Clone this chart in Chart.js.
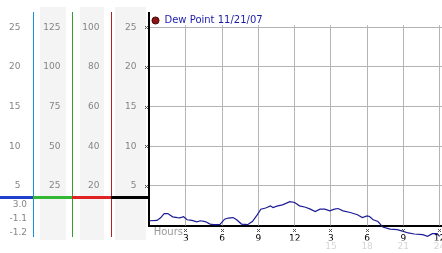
<!DOCTYPE html>
<html>
<head>
<meta charset="utf-8">
<script src="https://cdn.jsdelivr.net/npm/chart.js"></script>
<style>
  html, body { margin: 0; padding: 0; background: #fff; }
  #wrap { width: 442px; height: 253px; }
</style>
</head>
<body>
<div id="wrap"><canvas class="grafico"></canvas></div>
<script>
// dew point readings, hours since midnight
const hours = [0.0, 0.6, 0.9, 1.2, 1.5, 1.9, 2.3, 2.5, 2.8, 3.1, 3.5, 3.9, 4.2, 4.6, 5.0, 5.3, 5.8, 6.2, 6.5, 6.9,
  7.2, 7.6, 8.1, 8.5, 8.9, 9.2, 9.6, 10.0, 10.2, 10.6, 11.0, 11.6, 12.0, 12.4, 12.9, 13.3, 13.7, 14.1, 14.5, 14.9,
  15.3, 15.6, 16.0, 16.6, 17.2, 17.6, 18.0, 18.2, 18.5, 18.9, 19.3, 19.9, 20.5, 21.0, 21.4, 21.9, 22.6, 23.0, 23.4, 23.8, 24.0];
const dewPoint = [0.6, 0.64, 0.97, 1.5, 1.5, 1.09, 1.0, 0.97, 1.1, 0.72, 0.64, 0.47, 0.6, 0.5, 0.18, 0.1, 0.1, 0.8, 0.94, 1.0,
  0.72, 0.18, 0.1, 0.5, 1.35, 2.06, 2.2, 2.48, 2.27, 2.48, 2.6, 3.0, 2.9, 2.48, 2.3, 2.06, 1.76, 2.06, 2.06, 1.85,
  2.06, 2.14, 1.85, 1.64, 1.35, 1.0, 1.22, 1.13, 0.72, 0.5, -0.2, -0.45, -0.53, -0.74, -0.94, -1.07, -1.16, -1.37, -1.03, -1.03, -1.37];

const seriesName = 'Dew Point 11/21/07';
const hourTicks = [3, 6, 9, 12, 15, 18, 21, 24];
const hourLabels = ['3', '6', '9', '12', '3', '6', '9', '12'];
const clockTicks = [15, 18, 21, 24];
const clockLabels = ['15', '18', '21', '24'];
const dewTicks = [5, 10, 15, 20, 25];
const redTicks = [20, 40, 60, 80, 100];
const greenTicks = [25, 50, 75, 100, 125];
const blueTicks = [5, 10, 15, 20, 25];
const readouts = ['3.0', '-1.1', '-1.2'];
const markLevel = 3.65;
const yTop = 26.86;

const canvas = document.querySelector('.grafico');
const tickFont = { family: 'DejaVu Sans', size: 9 };
const gray = '#858585';

function sideAxis(ticks, factor, width, weight, pad) {
    return {
        position: 'left',
        weight: weight,
        min: 0,
        max: yTop * factor,
        grid: { display: false, drawTicks: false },
        border: { display: false },
        ticks: { color: gray, font: tickFont, padding: pad },
        afterBuildTicks: (s) => { s.ticks = ticks.map(v => ({ value: v })); },
        afterFit: (s) => { s.width = width; s.paddingTop = 0; s.paddingBottom = 0; }
    };
}

// left panel columns, vertical lines, readouts, small tick crosses
const panelDecor = {
    id: 'panelDecor',
    afterLayout(chart) {
        // legend sits in the top-left corner of the plot
        const lg = chart.legend;
        const h = lg.height;
        lg.top = chart.chartArea.top;
        lg.bottom = lg.top + h;
    },
    beforeDraw(chart) {
        const ctx = chart.ctx;
        const area = chart.chartArea;
        const cols = [['yGreen', 6.5, 6.5], ['yRed', 7.5, 7.5], ['y', 3.5, 2.5]];
        ctx.save();
        ctx.fillStyle = '#f4f4f4';
        cols.forEach(([id, l, r]) => {
            const s = chart.scales[id];
            ctx.fillRect(s.left + l, area.top - 5.5, s.width - l - r, area.bottom - area.top + 20);
        });
        ctx.restore();
    },
    beforeDatasetsDraw(chart) {
        const ctx = chart.ctx;
        const area = chart.chartArea;
        const xs = chart.scales.x;
        const ys = chart.scales.y;
        const top = ys.getPixelForValue(25) - 2;
        ctx.save();
        ctx.strokeStyle = '#b4b4b4';
        ctx.lineWidth = 1;
        hourTicks.forEach(h => {
            const px = Math.floor(xs.getPixelForValue(h)) + 0.5;
            ctx.beginPath();
            ctx.moveTo(px, top);
            ctx.lineTo(px, area.bottom);
            ctx.stroke();
        });
        ctx.restore();
    },
    afterDraw(chart) {
        const ctx = chart.ctx;
        const area = chart.chartArea;
        const xs = chart.scales.x;
        const ys = chart.scales.y;
        ctx.save();
        // colored column lines
        [['yBlue', '#1590e0'], ['yGreen', '#2fa02f'], ['yRed', '#b42020']].forEach(([id, c]) => {
            const s = chart.scales[id];
            ctx.fillStyle = c;
            ctx.fillRect(Math.floor(s.right), Math.floor(area.top), 1, area.bottom - area.top + 12);
        });
        // level marker across the panel
        const my = ys.getPixelForValue(markLevel);
        [['yBlue', '#1f3fcc'], ['yGreen', '#33b833'], ['yRed', '#e02222'], ['y', '#000000']].forEach(([id, c]) => {
            const s = chart.scales[id];
            ctx.fillStyle = c;
            ctx.fillRect(Math.floor(s.left), Math.round(my) - 1, Math.floor(s.right) - Math.floor(s.left) + 1, 3);
        });
        // readouts
        const bs = chart.scales.yBlue;
        ctx.fillStyle = gray;
        ctx.font = '9px "DejaVu Sans"';
        ctx.textAlign = 'right';
        ctx.textBaseline = 'middle';
        readouts.forEach((t, i) => {
            ctx.fillText(t, bs.right - 6.5, my + 8 + i * 14);
        });
        // Hours caption
        ctx.textAlign = 'left';
        ctx.fillStyle = '#9a9a9a';
        ctx.font = '10px "DejaVu Sans"';
        ctx.fillText('Hours', xs.getPixelForValue(0) + 4, area.bottom + 6.5);
        // small crosses at tick positions
        ctx.strokeStyle = '#555';
        ctx.lineWidth = 1;
        const cross = (cx, cy) => {
            ctx.beginPath();
            ctx.moveTo(cx - 1.5, cy - 1.5); ctx.lineTo(cx + 1.5, cy + 1.5);
            ctx.moveTo(cx + 1.5, cy - 1.5); ctx.lineTo(cx - 1.5, cy + 1.5);
            ctx.stroke();
        };
        hourTicks.forEach(h => cross(Math.floor(xs.getPixelForValue(h)) + 0.5, area.bottom + 5));
        dewTicks.forEach(v => cross(area.left - 2, Math.round(ys.getPixelForValue(v)) + 0.5));
        ctx.restore();
    }
};

const config = {
    type: 'line',
    data: {
        datasets: [{
            label: seriesName,
            data: hours.map((h, i) => ({ x: h, y: dewPoint[i] })),
            borderColor: '#1c1c96',
            borderWidth: 1.2,
            pointRadius: 0,
            tension: 0,
            clip: false,
            xAxisID: 'x',
            yAxisID: 'y'
        }]
    },
    options: {
        responsive: true,
        maintainAspectRatio: false,
        animation: false,
        devicePixelRatio: 1,
        layout: { padding: { top: 12.5, left: 0, right: 0, bottom: 0 } },
        scales: {
            yBlue: sideAxis(blueTicks, 1, 33.5, 3, 13),
            yGreen: sideAxis(greenTicks, 5, 39, 2, 12),
            yRed: sideAxis(redTicks, 4, 39, 1, 12),
            y: {
                position: 'left',
                weight: 0,
                min: 0,
                max: yTop,
                grid: { color: '#b4b4b4', drawTicks: false, lineWidth: 1 },
                border: { color: '#000', width: 2 },
                ticks: { color: gray, font: tickFont, padding: 12 },
                afterBuildTicks: (s) => { s.ticks = dewTicks.map(v => ({ value: v })); },
                afterFit: (s) => { s.width = 37; s.paddingTop = 0; s.paddingBottom = 0; }
            },
            x: {
                type: 'linear',
                position: 'bottom',
                weight: 0,
                min: -0.1,
                max: 24.2,
                grid: { display: false, drawTicks: false },
                border: { color: '#000', width: 2 },
                ticks: {
                    color: '#000', font: tickFont, padding: 7.5, maxRotation: 0, autoSkip: false,
                    callback: (v) => hourLabels[hourTicks.indexOf(v)]
                },
                afterBuildTicks: (s) => { s.ticks = hourTicks.map(v => ({ value: v })); },
                afterFit: (s) => { s.height = 15; s.paddingLeft = 0; s.paddingRight = 0; }
            },
            x2: {
                type: 'linear',
                position: 'bottom',
                weight: 1,
                min: -0.1,
                max: 24.2,
                grid: { display: false, drawTicks: false },
                border: { display: false },
                ticks: {
                    color: '#d6d6d6', font: tickFont, padding: 1, maxRotation: 0, autoSkip: false,
                    callback: (v) => clockLabels[clockTicks.indexOf(v)]
                },
                afterBuildTicks: (s) => { s.ticks = clockTicks.map(v => ({ value: v })); },
                afterFit: (s) => { s.height = 12.5; s.paddingLeft = 0; s.paddingRight = 0; }
            }
        },
        plugins: {
            tooltip: { enabled: false },
            legend: {
                position: 'chartArea',
                align: 'start',
                labels: {
                    usePointStyle: true,
                    boxWidth: 8,
                    boxHeight: 5,
                    padding: 3,
                    color: '#1a1aa8',
                    font: { family: 'DejaVu Sans', size: 10 },
                    generateLabels: () => [{
                        text: seriesName,
                        fillStyle: '#8c1414',
                        strokeStyle: '#4a0808',
                        fontColor: '#1a1aa8',
                        lineWidth: 1,
                        pointStyle: 'circle',
                        hidden: false,
                        datasetIndex: 0
                    }]
                }
            }
        }
    },
    plugins: [panelDecor]
};

const myChart = new Chart(canvas, config);
</script>
</body>
</html>
